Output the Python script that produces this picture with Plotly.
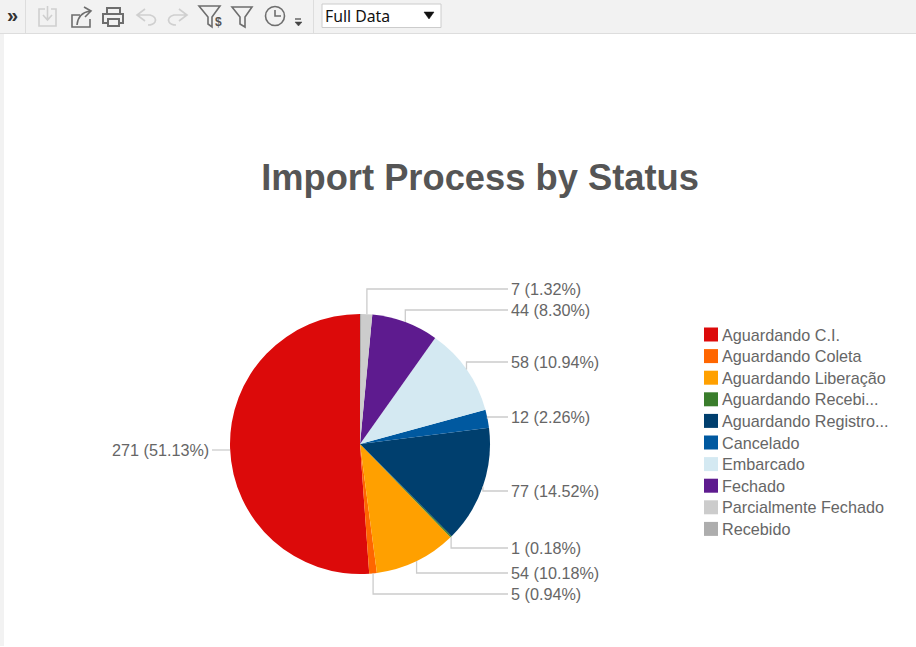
import math
import re
import plotly.graph_objects as go

W, H = 916, 647

# ── DATA ──────────────────────────────────────────────────────
statuses = [
    "Aguardando C.I.", "Aguardando Coleta", "Aguardando Liberação",
    "Aguardando Recebi...", "Aguardando Registro...", "Cancelado",
    "Embarcado", "Fechado", "Parcialmente Fechado", "Recebido",
]
counts = [271, 5, 54, 1, 77, 12, 58, 44, 7, 1]
colors = [
    "#DC0A0A", "#FF6600", "#FFA000", "#3A7D2C", "#003F6E",
    "#0059A0", "#D4E9F2", "#5E1B8F", "#CCCCCC", "#ADADAD",
]
# Recebido has no label in the chart
label_y = [450, 594, 573, 548, 491, 417, 362, 310, 289, None]

CX, CY, R = 360, 444, 130
TEXT = "#666666"
FONT = "Liberation Sans"
BAR_BG = "#F2F2F2"
ICON_ON = "#6E6E6E"
ICON_OFF = "#CFCFCF"


def px(x):
    return x / W


def py(y):
    return 1 - y / H


def pixel_path(d):
    """Turn an SVG path written in screen pixels into paper coordinates."""
    return re.sub(
        r"(-?[\d.]+),(-?[\d.]+)",
        lambda m: f"{px(float(m[1])):.5f},{py(float(m[2])):.5f}",
        d,
    )


def stroke(d, color=ICON_ON, width=1.6, fill=None):
    shape = dict(type="path", xref="paper", yref="paper", path=pixel_path(d),
                 line=dict(color=color, width=width))
    if fill:
        shape["fillcolor"] = fill
    return shape


def box(x0, y0, x1, y1, fill, line=None, width=1.0, kind="rect"):
    return dict(type=kind, xref="paper", yref="paper",
                x0=px(x0), x1=px(x1), y0=py(y1), y1=py(y0), fillcolor=fill,
                line=dict(color=line or fill, width=width if line else 0))


def text(x, y, s, size=16.2, color=TEXT, anchor="left", family=FONT, bold=False):
    return dict(xref="paper", yref="paper", x=px(x), y=py(y), text=f"<b>{s}</b>" if bold else s,
                showarrow=False, xanchor=anchor, yanchor="middle", align=anchor,
                font=dict(family=family, size=size, color=color),
                borderpad=0, borderwidth=0)


fig = go.Figure()

total = sum(counts)

# ── PIE ───────────────────────────────────────────────────────
# plotly lays the first slice clockwise from the rotation, so shift it back
# by its own size to get it running counterclockwise from 12 o'clock
fig.add_trace(go.Pie(
    labels=statuses,
    values=counts,
    sort=False,
    direction="counterclockwise",
    rotation=-counts[0] / total * 360,
    textinfo="none",
    hoverinfo="label+value+percent",
    marker=dict(colors=colors, line=dict(width=0)),
    domain=dict(x=[px(CX - R), px(CX + R)], y=[py(CY + R), py(CY - R)]),
    showlegend=False,
))

shapes = []
annotations = []

# ── LEADER LINES + VALUE LABELS ───────────────────────────────
start = 0
for value, y in zip(counts, label_y):
    mid = start + value / total * 180
    start += value / total * 360
    if y is None:
        continue
    rim_x = CX - R * math.sin(math.radians(mid))
    rim_y = CY - R * math.cos(math.radians(mid))
    # the source truncates the percentage, it does not round
    label = f"{value} ({math.floor(value / total * 10000) / 100:.2f}%)"
    if rim_x < CX:
        shapes.append(stroke(f"M{rim_x:.1f},{y} L212,{y}", "#CCCCCC", 1.3))
        annotations.append(text(209, y, label, anchor="right"))
    else:
        shapes.append(stroke(f"M{rim_x:.1f},{rim_y:.1f} L{rim_x:.1f},{y} L508,{y}", "#CCCCCC", 1.3))
        annotations.append(text(511, y, label))

# ── LEGEND ────────────────────────────────────────────────────
for i, (name, color) in enumerate(zip(statuses, colors)):
    y = 334.5 + i * 21.6
    shapes.append(box(704, y - 7, 718, y + 7, color))
    annotations.append(text(722, y, name))

# ── TOOLBAR ───────────────────────────────────────────────────
shapes += [
    box(0, 0, W, 33, BAR_BG),
    box(0, 33, W, 34, "#DDDDDD"),
    box(0, 34, 4, 646, BAR_BG),
    box(25, 0, 26, 33, "#DDDDDD"),
    box(313, 0, 314, 33, "#DDDDDD"),
    # dropdown
    box(322, 4, 441, 27.5, "#FFFFFF", "#CCCCCC"),
    stroke("M424,12 L434,12 L429,19 Z", "#111111", 0.5, "#111111"),
    # download (disabled)
    stroke("M45,9 L39,9 L39,26 L56,26 L56,9 L51,9", ICON_OFF),
    stroke("M47.5,6 L47.5,19 M43,15 L47.5,20 L52,15", ICON_OFF),
    # share
    stroke("M80,15 L72,15 L72,27 L90,27 L90,19"),
    stroke("M77,25 Q78,13 90,11 M84,7 L91,11 L85,17"),
    # print
    stroke("M107,23 L103,23 L103,14 L123,14 L123,23 L119,23", ICON_ON, 2),
    stroke("M107,14 L107,8 L120,8 L120,14 M108,19 L119,19 L119,26 L108,26 Z", ICON_ON, 2),
    # undo / redo (disabled)
    stroke("M145,9 L137,15 L145,21 M137,15 L150,15 Q157,17 155,22 Q153,25 148,25", ICON_OFF),
    stroke("M179,9 L187,15 L179,21 M187,15 L174,15 Q167,17 169,22 Q171,25 176,25", ICON_OFF),
    # filters
    stroke("M199,6 L220,6 L212,17 L212,27 L208,24 L208,17 Z"),
    stroke("M232,7 L252,7 L245,17 L245,27 L240,24 L240,17 Z"),
    # clock
    box(265.5, 6.5, 284.5, 25.5, "rgba(0,0,0,0)", ICON_ON, 1.6, kind="circle"),
    stroke("M275,10 L275,16 L281,16"),
    # history menu
    stroke("M295,19 L301,19", "#444444", 1.2),
    stroke("M295,22 L302,22 L298.5,26 Z", "#444444", 0.5, "#444444"),
]
annotations += [
    text(12.5, 15.5, "»", size=20, color="#333333", anchor="center", bold=True),
    text(218, 22, "$", size=12, color="#555555", anchor="center", bold=True),
    text(325, 16, "Full Data", size=15.8, color="#111111", family="Noto Sans"),
]

fig.update_layout(
    width=W,
    height=H,
    margin=dict(l=0, r=0, t=0, b=0),
    paper_bgcolor="#FFFFFF",
    showlegend=False,
    title=dict(
        text="<b>Import Process by Status</b>",
        x=px(480), y=py(177), xanchor="center", yanchor="middle",
        font=dict(family=FONT, size=36.3, color="#555555"),
    ),
    shapes=shapes,
    annotations=annotations,
)

fig.write_html("out.html", config=dict(displayModeBar=False),
               post_script="document.body.style.margin='0';")
